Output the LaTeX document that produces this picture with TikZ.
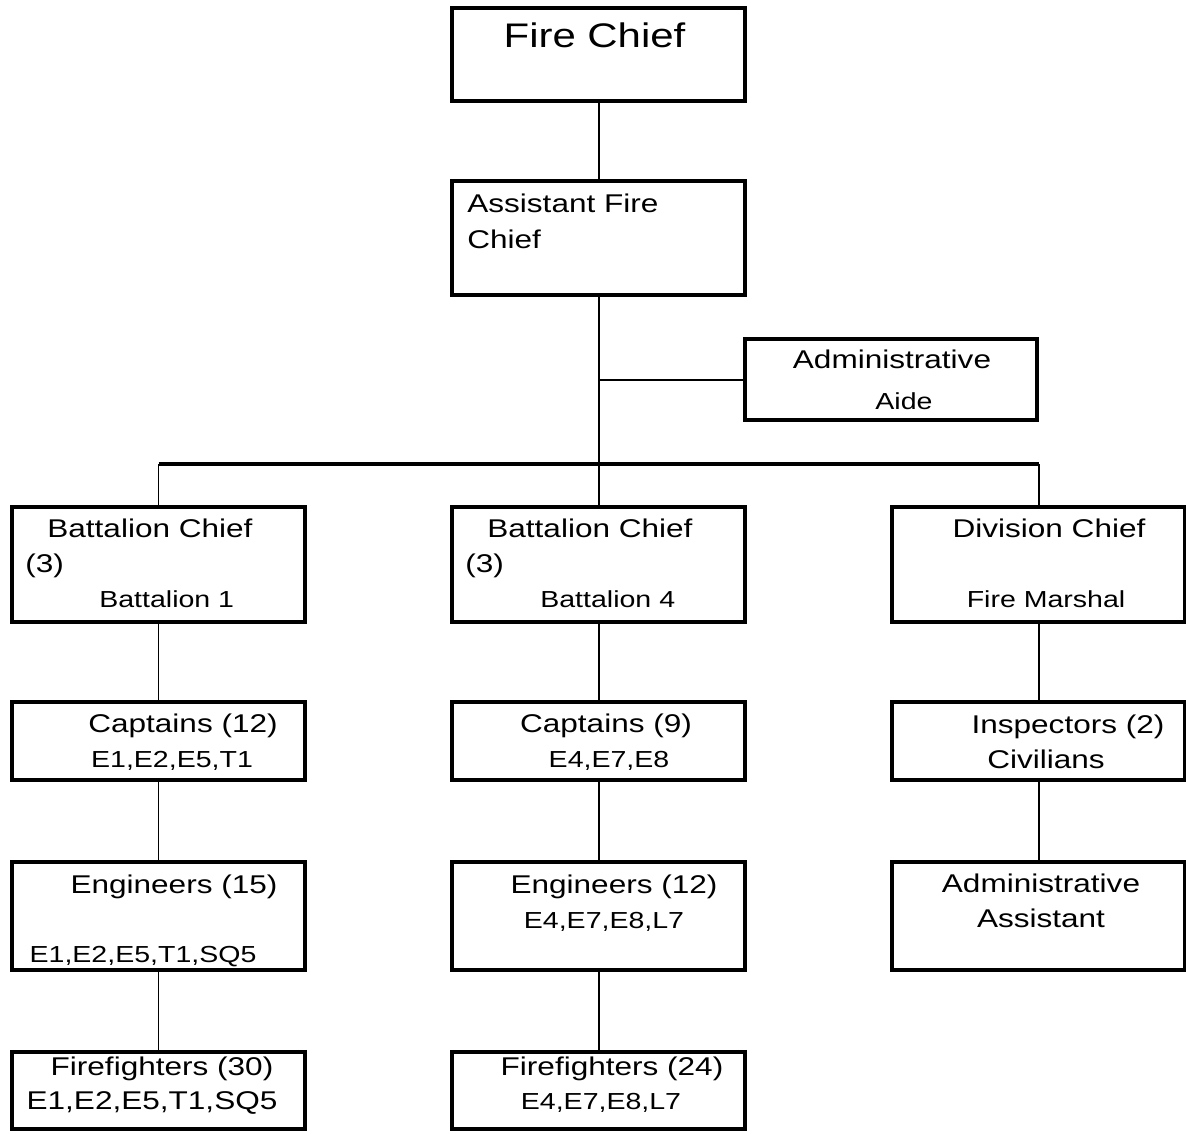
\documentclass[tikz,border=0pt]{standalone}
\usepackage{fontspec}
\setmainfont{Liberation Sans}[FakeStretch=1.23]
\newcommand\szTitle{\fontsize{19.4}{23}\selectfont}
\newcommand\szMain{\fontsize{14.6}{17}\selectfont}
\newcommand\szSmall{\fontsize{13.2}{16}\selectfont}
\begin{document}
\begin{tikzpicture}[x=0.02cm,y=-0.02cm,
  box/.style={draw=black, line width=2.27pt, fill=white, inner sep=0pt, rectangle,
    minimum width=5.86cm},
  conn/.style={draw=black, line width=1.13pt},
  busline/.style={draw=black, line width=2.27pt},
  txt/.style={inner sep=0pt, anchor=base, text=black},
  txtl/.style={inner sep=0pt, anchor=base west, text=black}]
\useasboundingbox[fill=white] (0,0) rectangle (1186,1133);

% boxes
\node[box, minimum height=1.86cm] (FC) at (598.5,54.5) {};
\node[box, minimum height=2.28cm] (AFC) at (598.5,238) {};
\node[box, minimum width=5.84cm, minimum height=1.62cm] (AA) at (891,379.5) {};
\node[box, minimum height=2.30cm] (BC1) at (158.5,564.5) {};
\node[box, minimum height=2.30cm] (BC4) at (598.5,564.5) {};
\node[box, minimum height=2.30cm] (DC) at (1038.5,564.5) {};
\node[box, minimum height=1.56cm] (CAP1) at (158.5,741) {};
\node[box, minimum height=1.56cm] (CAP4) at (598.5,741) {};
\node[box, minimum height=1.56cm] (INS) at (1038.5,741) {};
\node[box, minimum height=2.16cm] (ENG1) at (158.5,916) {};
\node[box, minimum height=2.16cm] (ENG4) at (598.5,916) {};
\node[box, minimum height=2.16cm] (ADA) at (1038.5,916) {};
\node[box, minimum height=1.54cm] (FF1) at (158.5,1090.5) {};
\node[box, minimum height=1.54cm] (FF4) at (598.5,1090.5) {};

% connectors
\coordinate (busL) at (158.5,464);
\coordinate (busR) at (1038.5,464);
\draw[conn] (FC.south) -- (AFC.north);
\draw[conn] (AFC.south) -- (BC4.north);
\draw[conn] (AA.west) -- (AA.west -| AFC.south);
\draw[busline] (busL) -- (busR);
\draw[conn] (busL) -- (BC1.north);
\draw[conn] (busR) -- (DC.north);
\draw[conn] (BC1.south) -- (CAP1.north);
\draw[conn] (CAP1.south) -- (ENG1.north);
\draw[conn] (ENG1.south) -- (FF1.north);
\draw[conn] (BC4.south) -- (CAP4.north);
\draw[conn] (CAP4.south) -- (ENG4.north);
\draw[conn] (ENG4.south) -- (FF4.north);
\draw[conn] (DC.south) -- (INS.north);
\draw[conn] (INS.south) -- (ADA.north);

% texts
\node[txt] (tFC) at (594.5,47) {\szTitle Fire Chief};
\node[txtl] (tAFC1) at (467,212) {\szMain Assistant Fire};
\node[txtl] (tAFC2) at (467,248) {\szMain Chief};
\node[txt] (tAA1) at (892,368) {\szMain Administrative};
\node[txt] (tAA2) at (904,409) {\szSmall Aide};

\node[txtl] (tBC1a) at (47,537) {\szMain Battalion Chief};
\node[txtl] (tBC1b) at (25,572) {\szMain (3)};
\node[txtl] (tBC1c) at (99,607) {\szSmall Battalion 1};
\node[txtl] (tBC4a) at (487,537) {\szMain Battalion Chief};
\node[txtl] (tBC4b) at (465,572) {\szMain (3)};
\node[txtl] (tBC4c) at (540,607) {\szSmall Battalion 4};
\node[txt] (tDCa) at (1049,537) {\szMain Division Chief};
\node[txt] (tDCb) at (1046,607) {\szSmall Fire Marshal};

\node[txt] (tC1a) at (183,732) {\szMain Captains (12)};
\node[txt] (tC1b) at (172,767) {\szSmall E1,E2,E5,T1};
\node[txt] (tC4a) at (606,732) {\szMain Captains (9)};
\node[txt] (tC4b) at (609,767) {\szSmall E4,E7,E8};
\node[txt] (tINa) at (1068,733) {\szMain Inspectors (2)};
\node[txt] (tINb) at (1046,768) {\szMain Civilians};

\node[txt] (tE1a) at (174,893) {\szMain Engineers (15)};
\node[txt] (tE1b) at (143,962) {\szSmall E1,E2,E5,T1,SQ5};
\node[txt] (tE4a) at (614,893) {\szMain Engineers (12)};
\node[txt] (tE4b) at (604,928) {\szSmall E4,E7,E8,L7};
\node[txt] (tADa) at (1041,892) {\szMain Administrative};
\node[txt] (tADb) at (1041,927) {\szMain Assistant};

\node[txt] (tF1a) at (162,1075) {\szMain Firefighters (30)};
\node[txt] (tF1b) at (152,1109) {\szMain E1,E2,E5,T1,SQ5};
\node[txt] (tF4a) at (612,1075) {\szMain Firefighters (24)};
\node[txt] (tF4b) at (601,1109) {\szSmall E4,E7,E8,L7};
\end{tikzpicture}
\end{document}
